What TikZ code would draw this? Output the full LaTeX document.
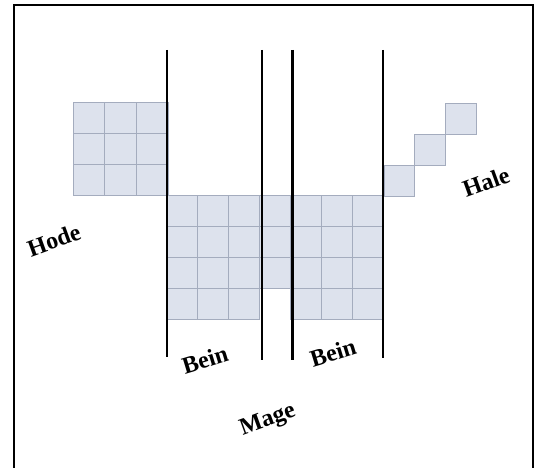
\documentclass[tikz,border=0pt]{standalone}
\usepackage{fontspec}
\setmainfont{Liberation Serif}
\definecolor{cellfill}{HTML}{DDE2ED}
\definecolor{cellline}{HTML}{A4ACBE}
\tikzset{
  cell/.style={fill=cellfill, draw=cellline, line width=0.9pt},
  bar/.style={line width=2.6pt, black},
  frame/.style={line width=2pt, black},
  lbl/.style={font=\bfseries\fontsize{24}{26}\selectfont, inner sep=0pt}
}
\begin{document}
\begin{tikzpicture}[x=1pt,y=-1pt]
\useasboundingbox (0,0) rectangle (539,468);
% frame (open at bottom)
\draw[frame] (14,470) -- (14,5.5) -- (532.5,5.5) -- (532.5,470);
% left block (head)
\foreach \i in {0,1,2}{\foreach \j in {0,1,2}{
  \draw[cell] ({73+31.7*\i},{102+31.3*\j}) rectangle ++(31.7,31.3);
}}
% center block
\foreach \i in {0,...,6}{\foreach \j in {0,1,2,3}{
  \ifnum\i=3 \ifnum\j=3 \else
    \draw[cell] ({167+30.9*\i},{195+31.2*\j}) rectangle ++(30.9,31.2);
  \fi\else
    \draw[cell] ({167+30.9*\i},{195+31.2*\j}) rectangle ++(30.9,31.2);
  \fi
}}
% stair (tail)
\draw[cell] (384,165) rectangle ++(30.5,31);
\draw[cell] (414.5,134) rectangle ++(30.5,31);
\draw[cell] (445,103) rectangle ++(31,31);
% vertical bars
\draw[bar] (167,50) -- (167,357);
\draw[bar] (262,50) -- (262,360);
\draw[bar] (292.5,50) -- (292.5,360);
\draw[bar] (383,50) -- (383,358);
% labels
\node[lbl, rotate=20] (hode) at (54,240) {Hode};
\node[lbl, rotate=20] (hale) at (486,182) {Hale};
\node[lbl, rotate=17] (bein1) at (205,360) {Bein};
\node[lbl, rotate=17] (bein2) at (333,353) {Bein};
\node[lbl, rotate=20] (mage) at (268,421) {Mage};
\end{tikzpicture}
\end{document}
